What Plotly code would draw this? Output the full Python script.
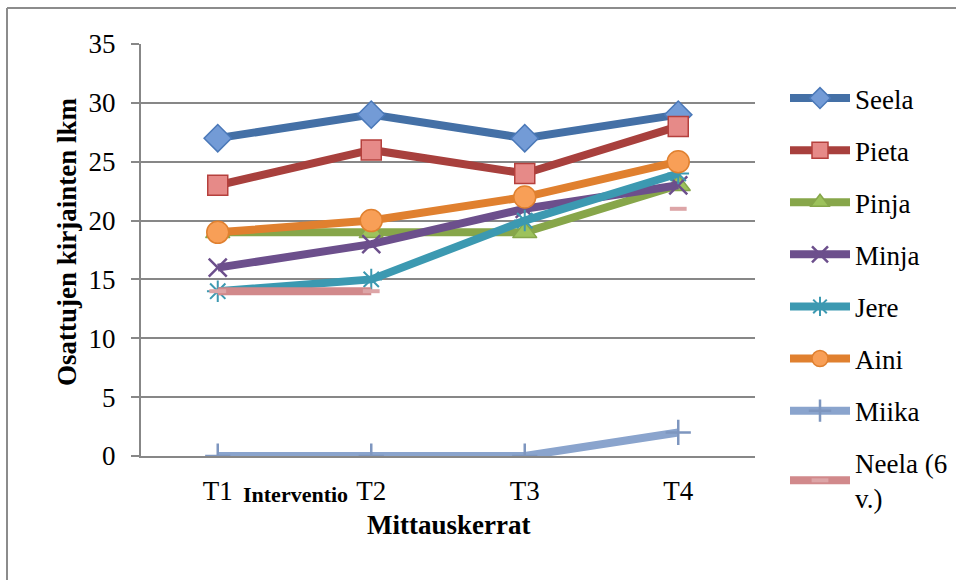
import plotly.graph_objects as go

# Measurement rounds and letter counts per child
rounds = ["T1", "T2", "T3", "T4"]
seela = [27, 29, 27, 29]
pieta = [23, 26, 24, 28]
pinja = [19, 19, 19, 23]
minja = [16, 18, 21, 23]
jere = [14, 15, 20, 24]
aini = [19, 20, 22, 25]
miika = [0, 0, 0, 2]
neela = [14, 14, None, 21]

y_ticks = [0, 5, 10, 15, 20, 25, 30, 35]

series = [
    ("Seela", seela, "#4470A6", dict(symbol="diamond", size=21, color="#739BD6", line=dict(color="#4A78B8", width=1.5))),
    ("Pieta", pieta, "#A8403D", dict(symbol="square", size=20, color="#E68A88", line=dict(color="#B5403D", width=1.5))),
    ("Pinja", pinja, "#87A64A", dict(symbol="triangle-up", size=21, color="#9DC25C", line=dict(color="#86A64A", width=1.5))),
    ("Minja", minja, "#6C4F8C", dict(symbol="x-thin-open", size=18, color="#6C4F8C", line=dict(color="#6C4F8C", width=2.5))),
    ("Jere", jere, "#3C99B1", dict(symbol="asterisk-open", size=18, color="#3C99B1", line=dict(color="#3C99B1", width=2))),
    ("Aini", aini, "#E0802F", dict(symbol="circle", size=22, color="#F89F57", line=dict(color="#E0802F", width=1.5))),
    ("Miika", miika, "#8AA4CD", dict(symbol="cross-thin-open", size=18, color="#7E96BF", line=dict(color="#7E96BF", width=2.5))),
    ("Neela (6<br>v.)", neela, "#D1898B", dict(symbol="line-ew-open", size=12, color="#DDA5A7", line=dict(color="#DDA5A7", width=4))),
]

fig = go.Figure()
for i, (name, vals, col, mk) in enumerate(series):
    fig.add_trace(go.Scatter(
        x=rounds, y=vals, name=name, mode="lines+markers",
        line=dict(color=col, width=8), marker=mk,
        connectgaps=False, legendgroup=f"g{i}",
    ))

# plot area in pixels: x 141..755, y 44..456
L, R, T, B = 141, 755, 44, 456
W, H = 956, 580


def px_x(p):
    return (p - L) / (R - L)


def px_y(p):
    return (B - p) / (B - T)


serif = "Liberation Serif"


def label(text, x, y, size, angle=0):
    return dict(text=text, x=px_x(x), y=px_y(y), xref="paper", yref="paper",
                xanchor="center", yanchor="middle", textangle=angle,
                showarrow=False, font=dict(size=size, family=serif, color="black"))


fig.update_layout(
    width=W, height=H,
    margin=dict(l=L, r=W - R, t=T, b=H - B, autoexpand=False),
    paper_bgcolor="white", plot_bgcolor="white",
    font=dict(family=serif, color="black", size=27),
    showlegend=True,
    legend=dict(
        x=px_x(785), y=px_y(74), xanchor="left", yanchor="top",
        font=dict(family=serif, size=27, color="black"),
        tracegroupgap=14, itemwidth=60, bgcolor="rgba(0,0,0,0)",
        maxheight=560,
    ),
    xaxis=dict(
        type="category", range=[-0.5, 3.5], showgrid=False,
        showline=True, linecolor="#878787", linewidth=2,
        ticks="outside", ticklen=0, ticklabelstandoff=10,
        tickfont=dict(size=27, family=serif),
        zeroline=False, fixedrange=True,
    ),
    yaxis=dict(
        range=[0, 35], tickvals=y_ticks, showgrid=True, gridcolor="#878787", gridwidth=1.5,
        showline=True, linecolor="#878787", linewidth=2,
        ticks="outside", ticklen=8, tickcolor="#878787", tickwidth=2,
        ticklabelstandoff=10, tickfont=dict(size=27, family=serif),
        zeroline=False, fixedrange=True,
    ),
    annotations=[
        label("<b>Osattujen kirjainten lkm</b>", 67, 242, 27, angle=-90),
        label("<b>Mittauskerrat</b>", 448, 525, 27),
        label("<b>Interventio</b>", 295, 494, 22),
    ],
    shapes=[
        dict(type="line", xref="paper", yref="paper", x0=px_x(7), x1=px_x(960),
             y0=px_y(8), y1=px_y(8), line=dict(color="#8C8C8C", width=2)),
        dict(type="line", xref="paper", yref="paper", x0=px_x(7), x1=px_x(7),
             y0=px_y(8), y1=px_y(590), line=dict(color="#8C8C8C", width=2)),
    ],
)

fig.write_html("out.html")
